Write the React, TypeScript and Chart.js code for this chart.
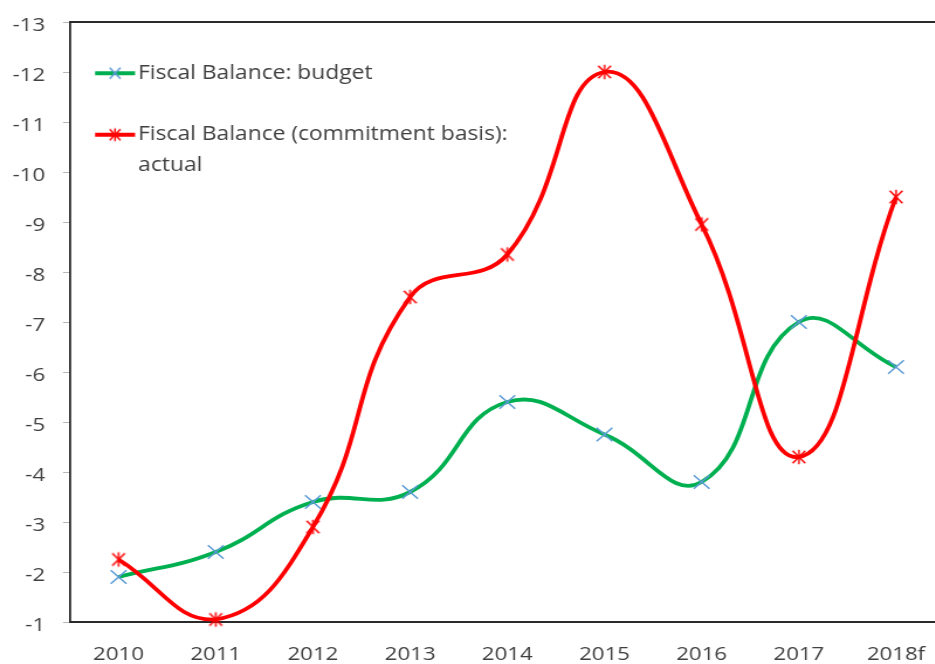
import React, { useEffect, useRef } from 'react';
import { Chart, registerables } from 'chart.js';

Chart.register(...registerables);

const categories = ['2010', '2011', '2012', '2013', '2014', '2015', '2016', '2017', '2018f'];
const budgetValues = [-1.9, -2.4, -3.4, -3.6, -5.4, -4.75, -3.8, -7.0, -6.1];
const actualValues = [-2.25, -1.05, -2.9, -7.5, -8.35, -12.0, -8.95, -4.3, -9.5];
const budgetLegend = 'Fiscal Balance: budget';
const actualLegend = ['Fiscal Balance (commitment basis):', 'actual'];
const yMin = -13;
const yMax = -1;
const yStep = 1;

// the reference picture is stretched horizontally; reproduce it with a CSS scale
const STRETCH = 1.17;
const CANVAS_W = 812;
const CANVAS_H = 664;

const FONT = "'Open Sans', sans-serif";
const FONT_SIZE = 19;
const LEGEND_FONT_SIZE = 19.5;
const TEXT = '#404040';
const GREEN = '#00b050';
const RED = '#ff0000';
const BLUE = '#5b9bd5';
const AXIS = '#2a2a2a';

function makeCanvas(w: number, h: number, draw: (ctx: CanvasRenderingContext2D) => void) {
  const c = document.createElement('canvas');
  c.width = w;
  c.height = h;
  const ctx = c.getContext('2d') as CanvasRenderingContext2D;
  draw(ctx);
  return c;
}

function drawX(ctx: CanvasRenderingContext2D, cx: number, cy: number, rx: number, ry: number, color: string, lw: number) {
  ctx.strokeStyle = color;
  ctx.lineWidth = lw;
  ctx.beginPath();
  ctx.moveTo(cx - rx, cy - ry);
  ctx.lineTo(cx + rx, cy + ry);
  ctx.moveTo(cx + rx, cy - ry);
  ctx.lineTo(cx - rx, cy + ry);
  ctx.stroke();
}

function drawAsterisk(ctx: CanvasRenderingContext2D, cx: number, cy: number, rx: number, ry: number, color: string, lw: number) {
  drawX(ctx, cx, cy, rx, ry, color, lw);
  ctx.beginPath();
  ctx.moveTo(cx, cy - ry - 1);
  ctx.lineTo(cx, cy + ry + 1);
  ctx.stroke();
}

export default function App() {
  const ref = useRef<HTMLCanvasElement | null>(null);

  useEffect(() => {
    if (!ref.current) return;

    const redMarker = makeCanvas(14, 18, (ctx) => drawAsterisk(ctx, 7, 9, 5.4, 6.3, RED, 1.5));
    const legendW = 50;
    const legendH = 18;
    const lineStart = 1.2;
    const lineEnd = 35.4;
    const markX = 18.3;
    const budgetIcon = makeCanvas(legendW, legendH, (ctx) => {
      ctx.strokeStyle = GREEN;
      ctx.lineWidth = 4;
      ctx.beginPath();
      ctx.moveTo(lineStart, legendH / 2);
      ctx.lineTo(lineEnd, legendH / 2);
      ctx.stroke();
      drawX(ctx, markX, legendH / 2, 4.6, 5.4, BLUE, 1.5);
    });
    const actualIcon = makeCanvas(legendW, legendH, (ctx) => {
      ctx.strokeStyle = RED;
      ctx.lineWidth = 4;
      ctx.beginPath();
      ctx.moveTo(lineStart, legendH / 2);
      ctx.lineTo(lineEnd, legendH / 2);
      ctx.stroke();
      drawAsterisk(ctx, markX, legendH / 2, 4.6, 5.4, RED, 1.5);
    });
    const legendTexts: (string | string[])[] = [budgetLegend, actualLegend];
    const legendIcons = [budgetIcon, actualIcon];

    const chart = new Chart(ref.current, {
      type: 'line',
      data: {
        labels: categories,
        datasets: [
          {
            label: budgetLegend,
            data: budgetValues,
            borderColor: GREEN,
            backgroundColor: GREEN,
            borderWidth: 3.8,
            tension: 0.45,
            pointStyle: 'crossRot',
            pointRadius: 9.5,
            pointBorderColor: BLUE,
            pointBackgroundColor: BLUE,
            pointBorderWidth: 1.5,
            clip: false,
            order: 2,
          },
          {
            label: actualLegend.join(' '),
            data: actualValues,
            borderColor: RED,
            backgroundColor: RED,
            borderWidth: 3.8,
            tension: 0.45,
            pointStyle: redMarker as any,
            pointRadius: 7,
            clip: false,
            order: 1,
          },
        ],
      },
      options: {
        animation: false,
        responsive: true,
        maintainAspectRatio: false,
        layout: { autoPadding: false, padding: { top: 22, right: 0, left: 0, bottom: 0 } },
        plugins: {
          tooltip: { enabled: false },
          legend: {
            position: 'chartArea' as any,
            align: 'start',
            title: { display: true, text: ' ', font: { size: 1, lineHeight: 1 }, padding: { top: 20.5, bottom: 0 } },
            labels: {
              usePointStyle: true,
              pointStyleWidth: 6.5,
              boxWidth: 6.5,
              padding: 42,
              color: TEXT,
              font: { family: FONT, size: LEGEND_FONT_SIZE, lineHeight: 1.56 },
              sort: (a: any, b: any) => a.datasetIndex - b.datasetIndex,
              generateLabels: (c: any) =>
                c.data.datasets.map((_: any, i: number) => ({
                  text: legendTexts[i],
                  datasetIndex: i,
                  pointStyle: legendIcons[i],
                  fillStyle: 'rgba(0,0,0,0)',
                  strokeStyle: 'rgba(0,0,0,0)',
                  lineWidth: 0,
                  hidden: false,
                  fontColor: TEXT,
                })),
            },
          },
        },
        scales: {
          x: {
            type: 'category',
            offset: true,
            grid: { display: false, drawTicks: false },
            border: { display: true, color: AXIS, width: 2 },
            ticks: { color: TEXT, font: { family: FONT, size: FONT_SIZE }, padding: 21, maxRotation: 0, autoSkip: false },
            afterFit: (s: any) => { s.height = 42; },
          },
          x2: {
            type: 'category',
            labels: categories,
            position: 'top',
            offset: true,
            grid: { display: false, drawTicks: false },
            border: { display: true, color: AXIS, width: 2 },
            ticks: { display: false },
            afterFit: (s: any) => { s.height = 0; },
          },
          y: {
            type: 'linear',
            min: yMin,
            max: yMax,
            reverse: true,
            grid: { display: true, drawOnChartArea: false, drawTicks: true, tickLength: 6, color: '#b8b8b8', lineWidth: 1 },
            border: { display: true, color: AXIS, width: 1.8 },
            ticks: { stepSize: yStep, color: TEXT, font: { family: FONT, size: FONT_SIZE }, padding: 15.3, labelOffset: 4 },
            afterFit: (s: any) => {
              s.width = 59.8;
              s.paddingTop = 0;
              s.paddingBottom = 0;
            },
          },
        },
      },
    });
    return () => chart.destroy();
  }, []);

  return (
    <div style={{ position: 'absolute', left: 0, top: 0, width: 935, height: 664, overflow: 'hidden', background: '#fff' }}>
      <div
        style={{
          position: 'relative',
          width: CANVAS_W,
          height: CANVAS_H,
          transform: `scaleX(${STRETCH})`,
          transformOrigin: '0 0',
        }}
      >
        <canvas ref={ref} />
      </div>
    </div>
  );
}
